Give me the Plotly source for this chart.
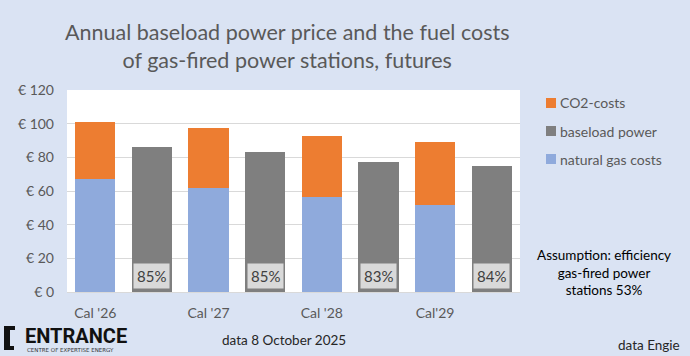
import plotly.graph_objects as go

# ---- data ----
cal_labels = ["Cal '26", "Cal '27", "Cal '28", "Cal'29"]
gas_costs = [67, 62, 56.5, 51.5]
co2_costs = [34, 35.5, 36.3, 37.6]
baseload = [86, 83, 77, 75]
pct_labels = ["85%", "85%", "83%", "84%"]
y_ticks = [0, 20, 40, 60, 80, 100, 120]

# category positions: stacked fuel-cost bar then baseload bar for each year
x_fuel = [2 * i for i in range(len(cal_labels))]
x_base = [2 * i + 1 for i in range(len(cal_labels))]

BG = "#DAE3F3"
ORANGE = "#ED7D31"
GREY = "#7F7F7F"
BLUE = "#8FAADC"
TXT = "#595959"
FONT = "Lato"

W, H = 690, 356
L, R, T, B = 67, 170, 90, 64
PW, PH = W - L - R, H - T - B


def px(x):
    return (x - L) / PW


def py(y):
    return (H - B - y) / PH


fig = go.Figure()
fig.add_trace(go.Bar(x=x_fuel, y=gas_costs, name="natural gas costs",
                     marker=dict(color=BLUE, line=dict(width=0)), width=0.71))
fig.add_trace(go.Bar(x=x_base, y=baseload, name="baseload power",
                     marker=dict(color=GREY, line=dict(width=0)), width=0.71))
fig.add_trace(go.Bar(x=x_fuel, y=co2_costs, name="CO2-costs",
                     marker=dict(color=ORANGE, line=dict(width=0)), width=0.71))

annotations = []
for xb, lab in zip(x_base, pct_labels):
    annotations.append(dict(x=xb, y=9.3, xref="x", yref="y", text=lab,
                            showarrow=False, bgcolor="#D9D9D9", borderpad=3,
                            font=dict(family=FONT, size=15, color="#404040")))

# manual legend
legend_items = [("CO2-costs", ORANGE), ("baseload power", GREY), ("natural gas costs", BLUE)]
shapes = []
for i, (nm, col) in enumerate(legend_items):
    yc = 103 + 28 * i
    shapes.append(dict(type="rect", xref="paper", yref="paper",
                       x0=px(546), x1=px(556), y0=py(yc + 5), y1=py(yc - 5),
                       fillcolor=col, line=dict(width=0)))
    annotations.append(dict(x=px(558), y=py(yc), xref="paper", yref="paper",
                            text=nm, showarrow=False, xanchor="left", yanchor="middle",
                            font=dict(family=FONT, size=14, color=TXT)))

# title
annotations.append(dict(x=px(287), y=py(46), xref="paper", yref="paper",
                        text="Annual baseload power price and the fuel costs<br>of gas-fired power stations, futures",
                        showarrow=False, xanchor="center", yanchor="middle",
                        font=dict(family=FONT, size=21.5, color=TXT)))

# assumption note
annotations.append(dict(x=px(604), y=py(272), xref="paper", yref="paper",
                        text="Assumption: efficiency<br>gas-fired power<br>stations 53%",
                        showarrow=False, xanchor="center", yanchor="middle",
                        font=dict(family=FONT, size=13.5, color="#000000")))

# footer texts
annotations.append(dict(x=px(284), y=py(340), xref="paper", yref="paper",
                        text="data 8 October 2025", showarrow=False,
                        xanchor="center", yanchor="middle",
                        font=dict(family=FONT, size=13.5, color="#262626")))
annotations.append(dict(x=px(682), y=py(345), xref="paper", yref="paper",
                        text="data Engie", showarrow=False,
                        xanchor="right", yanchor="middle",
                        font=dict(family=FONT, size=13.5, color="#262626")))

# logo
annotations.append(dict(x=px(23), y=py(336), xref="paper", yref="paper",
                        text="<b>ENTRANCE</b>", showarrow=False,
                        xanchor="left", yanchor="middle",
                        font=dict(family="Roboto", size=20, color="#111111")))
annotations.append(dict(x=px(25), y=py(350), xref="paper", yref="paper",
                        text="CENTRE OF EXPERTISE ENERGY", showarrow=False,
                        xanchor="left", yanchor="middle",
                        font=dict(family="DejaVu Sans", size=5.5, color="#333333")))
bracket = [(4, 326), (15, 326), (15, 330), (10, 330), (10, 346), (14, 346), (14, 350), (4, 350)]
path = "M " + " L ".join(f"{px(a):.5f},{py(b):.5f}" for a, b in bracket) + " Z"
shapes.append(dict(type="path", xref="paper", yref="paper", path=path,
                   fillcolor="#111111", line=dict(width=0)))

fig.update_layout(
    width=W, height=H,
    margin=dict(l=L, r=R, t=T, b=B, pad=0),
    paper_bgcolor=BG, plot_bgcolor="#FFFFFF",
    barmode="stack", bargap=0.29,
    showlegend=False,
    font=dict(family=FONT, color=TXT, size=14),
    annotations=annotations, shapes=shapes,
    xaxis=dict(range=[-0.5, 7.5], tickmode="array", tickvals=x_fuel, ticktext=cal_labels,
               showgrid=False, zeroline=False, showline=True, linecolor="#D9D9D9",
               linewidth=1, ticks="", ticklabelstandoff=8,
               tickfont=dict(family=FONT, size=14, color=TXT), fixedrange=True),
    yaxis=dict(range=[0, 120], tickmode="array", tickvals=y_ticks,
               ticktext=[f"€ {v}" for v in y_ticks],
               showgrid=True, gridcolor="#D9D9D9", gridwidth=1, zeroline=False,
               showline=False, ticks="", ticklabelstandoff=12,
               tickfont=dict(family=FONT, size=14, color=TXT), fixedrange=True),
)

fig.write_html("out.html", config={"displayModeBar": False},
               post_script="document.body.style.margin='0';document.body.style.overflow='hidden';")
